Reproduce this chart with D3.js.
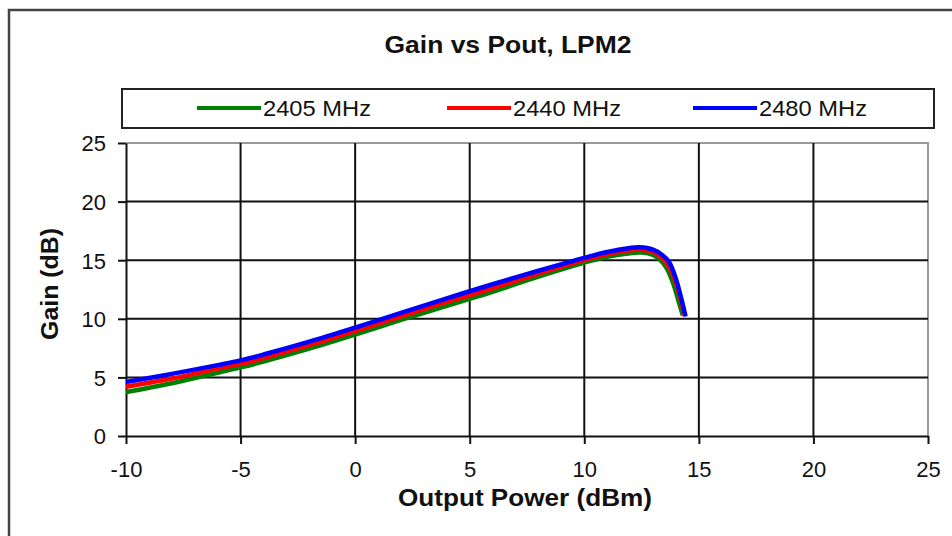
<!DOCTYPE html>
<html><head><meta charset="utf-8">
<script src="https://cdn.jsdelivr.net/npm/d3@7"></script>
<style>body{margin:0;background:#fff}svg{display:block}text{font-family:"Liberation Sans",Arial,sans-serif}</style>
</head><body><svg id="c" width="952" height="536"></svg>
<script>
const title = "Gain vs Pout, LPM2";
const xLabel = "Output Power (dBm)";
const yLabel = "Gain (dB)";
const xTicks = [-10, -5, 0, 5, 10, 15, 20, 25];
const yTicks = [0, 5, 10, 15, 20, 25];
const seriesNames = ["2405 MHz", "2440 MHz", "2480 MHz"];
const seriesColors = ["#008000", "#ff0000", "#0000ff"];
const pout2405 = [-10, -8, -6, -5, -4, -2, 0, 2, 4, 5, 6, 8, 10, 11, 12, 12.5, 13, 13.3, 13.6, 13.9, 14.1, 14.3];
const gain2405 = [3.75, 4.5, 5.4, 5.85, 6.35, 7.45, 8.65, 9.9, 11.1, 11.7, 12.3, 13.6, 14.8, 15.3, 15.6, 15.65, 15.45, 15.05, 14.3, 12.9, 11.6, 10.3];
const pout2440 = [-10, -8, -6, -5, -4, -2, 0, 2, 4, 5, 6, 8, 10, 11, 12, 12.5, 13, 13.4, 13.7, 14.0, 14.2, 14.37];
const gain2440 = [4.2, 4.9, 5.75, 6.15, 6.65, 7.75, 8.95, 10.2, 11.45, 12.0, 12.6, 13.85, 15.0, 15.5, 15.85, 15.9, 15.7, 15.15, 14.4, 13.0, 11.7, 10.3];
const pout2480 = [-10, -8, -6, -5, -4, -2, 0, 2, 4, 5, 6, 8, 10, 11, 12, 12.4, 13, 13.4, 13.7, 14.0, 14.25, 14.42];
const gain2480 = [4.6, 5.3, 6.05, 6.45, 6.95, 8.05, 9.25, 10.5, 11.75, 12.35, 12.95, 14.1, 15.2, 15.7, 16.05, 16.1, 15.9, 15.45, 14.85, 13.4, 11.6, 10.2];
const seriesX = [pout2405, pout2440, pout2480];
const seriesY = [gain2405, gain2440, gain2480];

const svg = d3.select("#c");
const L = 126, R = 928, T = 143, B = 436;
const x = d3.scaleLinear().domain([-10, 25]).range([L, R]);
const y = d3.scaleLinear().domain([0, 25]).range([B, T]);

// outer frame
svg.append("rect").attr("x", 9).attr("y", 10).attr("width", 960).attr("height", 560)
  .attr("fill", "none").attr("stroke", "#444").attr("stroke-width", 2.5);

// title
svg.append("text").attr("x", 508).attr("y", 53).attr("text-anchor", "middle")
  .attr("font-size", 24).attr("font-weight", "bold").attr("fill", "#111")
  .attr("textLength", 247).attr("lengthAdjust", "spacingAndGlyphs").text(title);

// legend
svg.append("rect").attr("x", 122).attr("y", 89).attr("width", 812).attr("height", 39)
  .attr("fill", "#fff").attr("stroke", "#222").attr("stroke-width", 2);
const legX = [197, 447, 693];
seriesNames.forEach((n, i) => {
  svg.append("line").attr("x1", legX[i]).attr("x2", legX[i] + 64).attr("y1", 108).attr("y2", 108)
    .attr("stroke", seriesColors[i]).attr("stroke-width", 4);
  svg.append("text").attr("x", legX[i] + 66).attr("y", 116).attr("font-size", 22).attr("fill", "#111")
    .attr("textLength", 108).attr("lengthAdjust", "spacingAndGlyphs").text(n);
});

// plot border (top/right grey)
svg.append("path").attr("d", `M${L},${T}H${R}V${B}`).attr("fill", "none").attr("stroke", "#999").attr("stroke-width", 2);

// gridlines
const g = svg.append("g");
g.selectAll(".gy").data(yTicks.filter(v => v > 0 && v < 25)).join("line")
  .attr("x1", L).attr("x2", R).attr("y1", d => y(d)).attr("y2", d => y(d))
  .attr("stroke", "#111").attr("stroke-width", 2);
g.selectAll(".gx").data(xTicks.filter(v => v > -10 && v < 25)).join("line")
  .attr("y1", T).attr("y2", B).attr("x1", d => x(d)).attr("x2", d => x(d))
  .attr("stroke", "#111").attr("stroke-width", 2);

// axes
const fmt = d => String(d);
const xAxis = d3.axisBottom(x).tickValues(xTicks).tickSize(8).tickSizeOuter(0).tickFormat(fmt);
const yAxis = d3.axisLeft(y).tickValues(yTicks).tickSize(8).tickSizeOuter(0).tickFormat(fmt);
const gx = svg.append("g").attr("transform", `translate(0,${B})`).call(xAxis);
const gy = svg.append("g").attr("transform", `translate(${L},0)`).call(yAxis);
[gx, gy].forEach(a => {
  a.select(".domain").attr("stroke", "#111").attr("stroke-width", 2);
  a.selectAll(".tick line").attr("stroke", "#111").attr("stroke-width", 2);
  a.selectAll(".tick text").attr("font-size", 22).attr("fill", "#111")
    .style("font-family", '"Liberation Sans",Arial,sans-serif');
});
gx.selectAll(".tick text").attr("dy", "0").attr("y", 41);
gy.selectAll(".tick text").attr("x", -20).attr("dy", "0.36em");

// series
const line = d3.line().x(d => x(d[0])).y(d => y(d[1])).curve(d3.curveCatmullRom.alpha(0.5));
seriesX.forEach((xs, i) => {
  const pts = xs.map((v, j) => [v, seriesY[i][j]]);
  svg.append("path").attr("d", line(pts)).attr("fill", "none")
    .attr("stroke", seriesColors[i]).attr("stroke-width", 4.5).attr("stroke-linejoin", "round");
});

// axis labels
svg.append("text").attr("x", 525).attr("y", 506).attr("text-anchor", "middle")
  .attr("font-size", 24).attr("font-weight", "bold").attr("fill", "#111")
  .attr("textLength", 254).attr("lengthAdjust", "spacingAndGlyphs").text(xLabel);
svg.append("text").attr("transform", "translate(58,284) rotate(-90)").attr("text-anchor", "middle")
  .attr("font-size", 23).attr("font-weight", "bold").attr("fill", "#111")
  .attr("textLength", 112).attr("lengthAdjust", "spacingAndGlyphs").text(yLabel);
</script></body></html>
